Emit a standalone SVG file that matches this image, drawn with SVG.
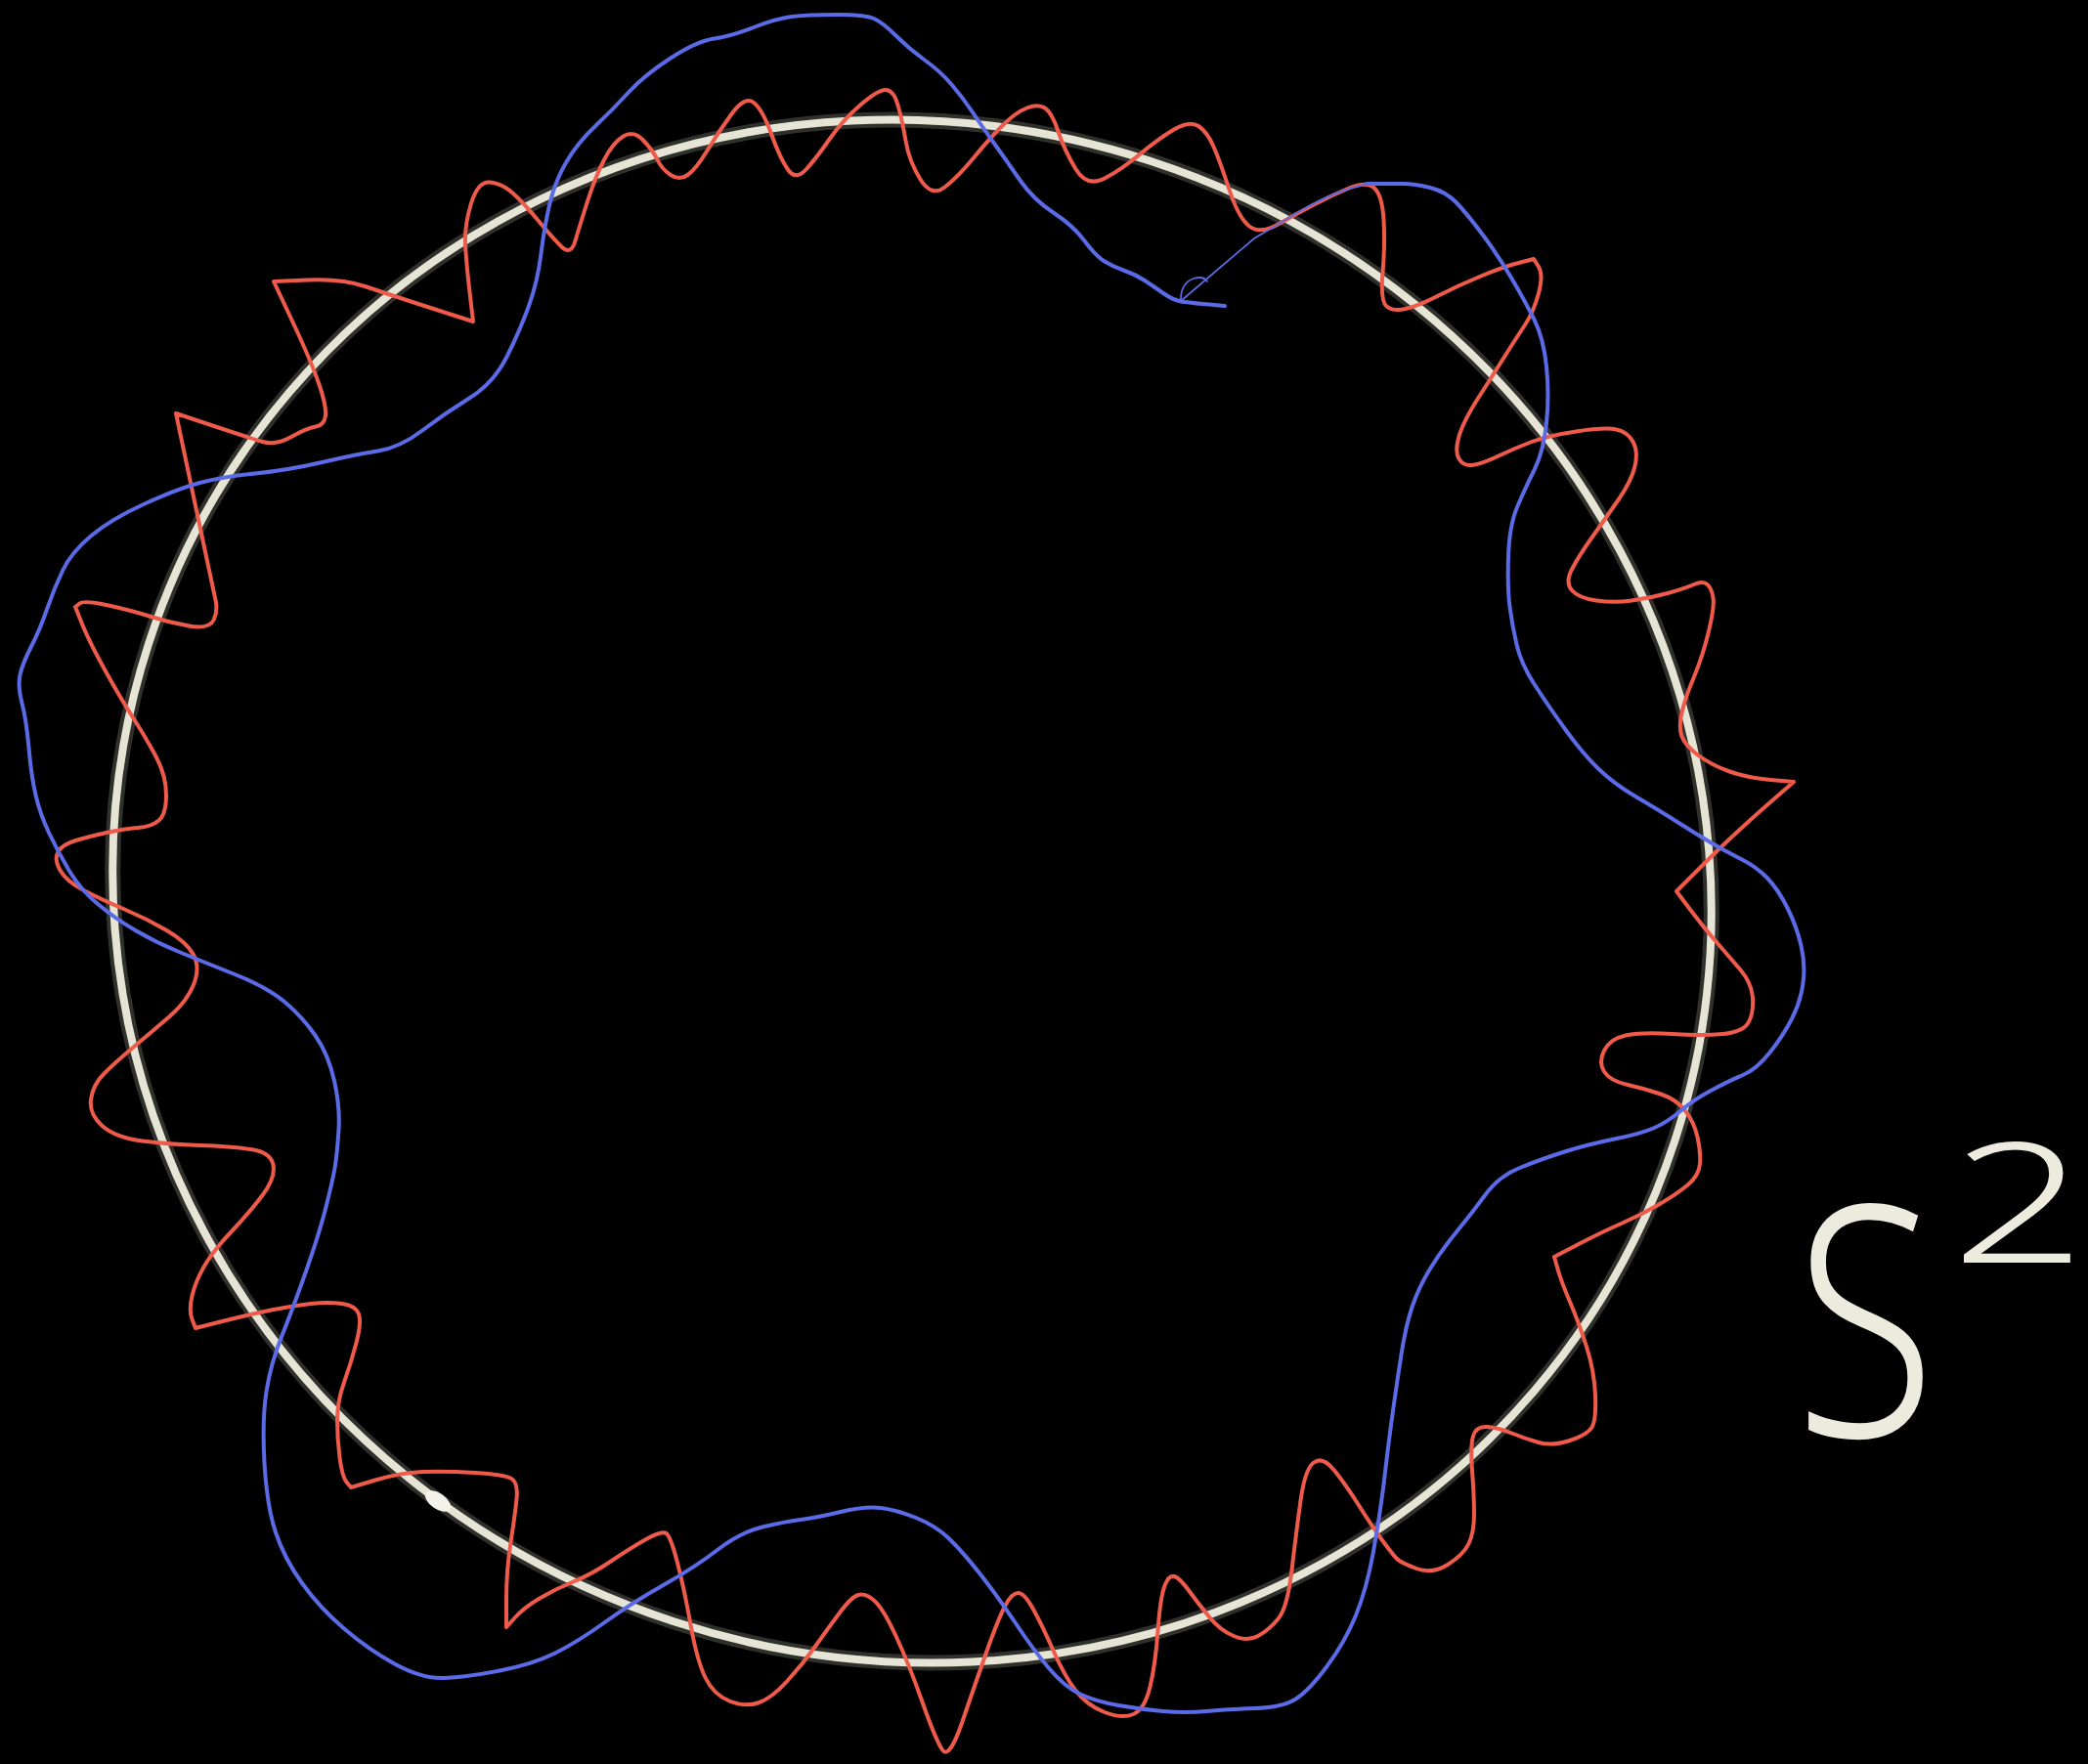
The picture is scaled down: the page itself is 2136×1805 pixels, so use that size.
<svg xmlns="http://www.w3.org/2000/svg" width="2136" height="1805" viewBox="0 0 2136 1805">
<style>
.circle-glow{fill:none;stroke:#d8d6c4;stroke-width:16;opacity:0.22}
.circle{fill:none;stroke:#e6e4d4;stroke-width:8}
.red{fill:none;stroke:#ef5a4b;stroke-width:4;stroke-linejoin:round;stroke-linecap:round}
.blue{fill:none;stroke:#5b6ae6;stroke-width:4;stroke-linejoin:round;stroke-linecap:round}
.blue-thin{fill:none;stroke:#5b6ae6;stroke-width:1.8;stroke-linecap:round}
.label{fill:#ecebdd;font-family:"Noto Sans","Liberation Sans",sans-serif;font-weight:300}
</style>
<rect width="2136" height="1805" fill="#000"/>
<g id="circle">
<ellipse class="circle-glow" cx="933" cy="912" rx="821" ry="786" transform="rotate(18 933 912)"/>
<ellipse class="circle" cx="933" cy="912" rx="821" ry="786" transform="rotate(18 933 912)"/>
<ellipse cx="448" cy="1536" rx="15" ry="8" fill="#f4f3ea" transform="rotate(35 448 1536)"/>
</g>
<g id="red-curve">
<path class="red" d="M703.5,179 Q712,173 723.5,154 Q735,135 748.5,116.5 Q762,98 771,105 Q780,112 789,137 Q798,162 806,173.5 Q814,185 824.5,173.5 Q835,162 848.5,142.5 Q862,123 880,107.5 Q898,92 906,92 Q914,92 918.5,107.5 Q923,123 926.5,144 Q930,165 941.5,183.5 Q953,202 966.5,191.5 Q980,181 996,161.5 Q1012,142 1025.5,128.5 Q1039,115 1050.5,110.5 Q1062,106 1069,110.5 Q1076,115 1082.5,134.5 Q1089,154 1100.5,173 Q1112,192 1130,182.5 Q1148,173 1166.5,157.5 Q1185,142 1201,132.5 Q1217,123 1226,129 Q1235,135 1241.5,150 Q1248,165 1257.5,194 Q1267,223 1278,231.5 Q1289,240 1307.5,229.5 Q1326,219 1344,209.5 Q1362,200 1380,192.5 Q1398,185 1406,192.5 Q1414,200 1415.5,225 Q1417,250 1414.5,279 Q1412,308 1418.5,313.5 Q1425,319 1438,316 Q1451,313 1471.5,302.5 Q1492,292 1515,282.5 Q1538,273 1553.5,269 L1569,265 L1574,273 Q1579,281 1574,300 Q1569,319 1560,332.5 Q1551,346 1540,363.5 Q1529,381 1513,406 Q1497,431 1492.5,446.5 Q1488,462 1492.5,469.5 Q1497,477 1506,476 Q1515,475 1533,466.5 Q1551,458 1567,452 Q1583,446 1612.5,441.5 Q1642,437 1653.5,439.5 Q1665,442 1670.5,452 Q1676,462 1672.5,477 Q1669,492 1655.5,511.5 Q1642,531 1628.5,550 Q1615,569 1608,582.5 Q1601,596 1608,604 Q1615,612 1633,614.5 Q1651,617 1669.5,614.5 Q1688,612 1706,607 Q1724,602 1733,598 Q1742,594 1746.5,598 Q1751,602 1752.5,611.5 Q1754,621 1748,646 Q1742,671 1733,692.5 Q1724,714 1720.5,729 Q1717,744 1720.5,753.5 Q1724,763 1737.5,773 Q1751,783 1769.5,789.5 Q1788,796 1811.5,798 L1835,800 L1816,816.5 Q1797,833 1778.5,850 Q1760,867 1737.5,889.5 L1715,912 L1728.5,930 Q1742,948 1755.5,963.5 Q1769,979 1780.5,992.5 Q1792,1006 1793,1021.5 Q1794,1037 1788.5,1046.5 Q1783,1056 1762.5,1058 Q1742,1060 1710.5,1058 Q1679,1056 1663,1059.5 Q1647,1063 1641,1075 Q1635,1087 1641,1096.5 Q1647,1106 1665,1110 Q1683,1114 1699,1119.5 Q1715,1125 1724,1136.5 Q1733,1148 1736.5,1163.5 Q1740,1179 1739,1191 Q1738,1203 1726.5,1212.5 Q1715,1222 1697,1232.5 Q1679,1243 1658.5,1252 Q1638,1261 1614,1273.5 L1590,1286 L1593.5,1298.5 Q1597,1311 1606,1332 Q1615,1353 1623,1378 Q1631,1403 1632,1428 Q1633,1453 1628.5,1460.5 Q1624,1468 1606,1474 Q1588,1480 1574,1476 Q1560,1472 1546.5,1466.5 Q1533,1461 1521.5,1460 Q1510,1459 1507,1469.5 Q1504,1480 1506,1505 Q1508,1530 1508,1549 Q1508,1568 1502.5,1579.5 Q1497,1591 1481,1601 Q1465,1611 1449,1605 Q1433,1599 1429,1595 Q1425,1591 1414,1576 Q1403,1561 1389.5,1539.5 Q1376,1518 1364.5,1504 Q1353,1490 1344,1496.5 Q1335,1503 1330.5,1535.5 Q1326,1568 1321.5,1606.5 Q1317,1645 1307.5,1656.5 Q1298,1668 1287,1674 Q1276,1680 1262,1674 Q1248,1668 1237,1654.5 Q1226,1641 1216.5,1628 Q1207,1615 1201.5,1613 Q1196,1611 1191.5,1622.5 Q1187,1634 1184.5,1668.5 Q1182,1703 1176.5,1726 Q1171,1749 1159.5,1754 Q1148,1759 1130,1752 Q1112,1745 1100.5,1730 Q1089,1715 1078,1690 Q1067,1665 1057.5,1647.5 Q1048,1630 1041.5,1630 Q1035,1630 1028,1643.5 Q1021,1657 1009.5,1689.5 Q998,1722 984.5,1761.5 Q971,1801 964,1790.5 Q957,1780 943.5,1741.5 Q930,1703 916.5,1674 Q903,1645 894,1637.5 Q885,1630 878,1632 Q871,1634 859.5,1649.5 Q848,1665 834.5,1684 Q821,1703 805,1720.5 Q789,1738 775.5,1742.5 Q762,1747 746,1740.5 Q730,1734 721.5,1716.5 Q713,1699 706.5,1662.5 Q700,1626 693,1599 Q686,1572 681.5,1569 Q677,1566 661,1575 Q645,1584 625,1597.5 Q605,1611 586.5,1618.5 Q568,1626 552,1635.5 Q536,1645 527,1655 L518,1665 L518,1636 Q518,1607 522.5,1578 Q527,1549 528.5,1533.5 Q530,1518 524,1513.5 Q518,1509 486.5,1507 Q455,1505 432,1506 Q409,1507 384,1514.5 L359,1522 L354.5,1516.5 Q350,1511 347.5,1491.5 Q345,1472 345,1453 Q345,1434 352,1414.5 Q359,1395 364.5,1374 Q370,1353 367,1344.5 Q364,1336 350,1334 Q336,1332 318,1334 Q300,1336 277.5,1340.5 Q255,1345 227.5,1352 L200,1359 L196.5,1350 Q193,1341 196.5,1326 Q200,1311 209,1295.5 Q218,1280 236.5,1260.5 Q255,1241 268.5,1223 Q282,1205 279.5,1192 Q277,1179 256.5,1176 Q236,1173 204.5,1172 Q173,1171 145.5,1167.5 Q118,1164 104.5,1152 Q91,1140 93,1125 Q95,1110 106.5,1098.5 Q118,1087 136.5,1071.5 Q155,1056 173,1040.5 Q191,1025 198,1007.5 Q205,990 198,977 Q191,964 170.5,952 Q150,940 127.5,930.5 Q105,921 86.5,911.5 Q68,902 61.5,890.5 Q55,879 59.5,871.5 Q64,864 77.5,860 Q91,856 109,852 Q127,848 141,847 Q155,846 162.5,839.5 Q170,833 170,813.5 Q170,794 160,775 Q150,756 136.5,735 Q123,714 107,685 Q91,656 84,638.5 L77,621 L81.5,617.5 Q86,614 111,619.5 Q136,625 154.5,631 Q173,637 193.5,640.5 Q214,644 218.5,634.5 Q223,625 220.5,614 Q218,603 199,513 L180,423 L217.5,435.5 Q255,448 268.5,452 Q282,456 298,447 Q314,438 323,436.5 Q332,435 333,425 Q334,415 326,392 Q318,369 299,328.5 L280,288 L315,286.5 Q350,285 375,293.5 Q400,302 442,315.5 L484,329 L480.5,299 Q477,269 476,250 Q475,231 482,208 Q489,185 501.5,186.5 Q514,188 525,198 Q536,208 550,225 Q564,242 574,252 Q584,262 588.5,246.5 Q593,231 601,206 Q609,181 618,163.5 Q627,146 637.5,139.5 Q648,133 658,143.5 Q668,154 672.5,163.5 Q677,173 686,179 Q695,185 703.5,179 Z"/>
</g>
<g id="blue-curve">
<path class="blue" d="M1253,313 Q1217,310 1208.5,308.5 Q1200,307 1190,300 Q1180,293 1171,287 Q1162,281 1150.5,277 Q1139,273 1130,267.5 Q1121,262 1109.5,246.5 Q1098,231 1077.5,217.5 Q1057,204 1043.5,184.5 Q1030,165 1016.5,146 Q1003,127 994,113.5 Q985,100 973.5,86.5 Q962,73 946,61.5 Q930,50 916.5,36.5 Q903,23 894,19 Q885,15 855.5,15 Q826,15 810,17 Q794,19 771,28 Q748,37 730.5,39.5 Q713,42 686,59.5 Q659,77 643,94.5 Q627,112 609,129 Q591,146 579.5,165.5 Q568,185 562.5,208 Q557,231 553.5,259.5 Q550,288 541,313 Q532,338 518.5,365 Q505,392 480,407.5 Q455,423 432,440.5 Q409,458 386.5,461.5 Q364,465 329.5,473 Q295,481 261,484.5 Q227,488 204.5,494 Q182,500 148,515.5 Q114,531 93.5,548 Q73,565 64,584 Q55,603 48,623.5 Q41,644 32,661.5 Q23,679 20.5,690.5 Q18,702 22.5,719.5 Q27,737 29.5,765.5 Q32,794 36.5,813.5 Q41,833 50,852 Q59,871 70.5,890.5 Q82,910 100,925 Q118,940 138.5,952 Q159,964 182,973.5 Q205,983 239,996.5 Q273,1010 291,1025 Q309,1040 322.5,1059.5 Q336,1079 342,1106 Q348,1133 346.5,1156 Q345,1179 343,1192 Q341,1205 334,1233 Q327,1261 313.5,1299.5 Q300,1338 288.5,1366.5 Q277,1395 272.5,1424 Q268,1453 270.5,1497 Q273,1541 282,1568 Q291,1595 309,1620 Q327,1645 352,1666.5 Q377,1688 404.5,1703 Q432,1718 454.5,1717 Q477,1716 511,1709.5 Q545,1703 568,1691.5 Q591,1680 618,1660.5 Q645,1641 678.5,1622 Q712,1603 734.5,1585.5 Q757,1568 780,1562.5 Q803,1557 819,1555 Q835,1553 860,1547 Q885,1541 901,1543 Q917,1545 937,1553 Q957,1561 971,1574.5 Q985,1588 1003,1611 Q1021,1634 1039,1661 Q1057,1688 1073,1707 Q1089,1726 1105,1733.5 Q1121,1741 1144,1745 Q1167,1749 1189.5,1751 Q1212,1753 1234.5,1751 Q1257,1749 1284.5,1748 Q1312,1747 1325.5,1738.5 Q1339,1730 1357.5,1705 Q1376,1680 1387,1653 Q1398,1626 1405,1587.5 Q1412,1549 1416.5,1510.5 Q1421,1472 1425,1443.5 Q1429,1415 1433.5,1386 Q1438,1357 1444.5,1337.5 Q1451,1318 1462.5,1299 Q1474,1280 1490,1260.5 Q1506,1241 1519.5,1222.5 Q1533,1204 1553.5,1195.5 Q1574,1187 1599,1179 Q1624,1171 1651.5,1165.5 Q1679,1160 1692.5,1154 Q1706,1148 1719.5,1136.5 Q1733,1125 1751,1115.5 Q1769,1106 1783,1100 Q1797,1094 1810.5,1077 Q1824,1060 1833,1042.5 Q1842,1025 1844.5,1006 Q1847,987 1842.5,967.5 Q1838,948 1828.5,929 Q1819,910 1808,898.5 Q1797,887 1781,879 Q1765,871 1749,861.5 Q1733,852 1715,840.5 Q1697,829 1674,815.5 Q1651,802 1635,786.5 Q1619,771 1601,746 Q1583,721 1569.5,700 Q1556,679 1551.5,659.5 Q1547,640 1544.5,621 Q1542,602 1543,570 Q1544,538 1552,519 Q1560,500 1569.5,481 Q1579,462 1582,433 Q1585,404 1582,375 Q1579,346 1569.5,327 Q1560,308 1546.5,285 Q1533,262 1517,240.5 Q1501,219 1490,207.5 Q1479,196 1463,192 Q1447,188 1435.5,188 Q1424,188 1409,188 L1398,188"/>
<path class="blue-thin" d="M1400,188 Q1368,194 1330,216 L1283,244 L1208,308"/>
<path class="blue-thin" d="M1208,306 Q1208,290 1221,285 Q1231,282 1235,288"/>
</g>
<g id="label-S2">
<text class="label" font-size="330" transform="translate(1836,1470) scale(0.8,1)">S</text>
<text class="label" font-size="172" transform="translate(1996,1292) scale(1.4,1)">2</text>
</g>
</svg>
